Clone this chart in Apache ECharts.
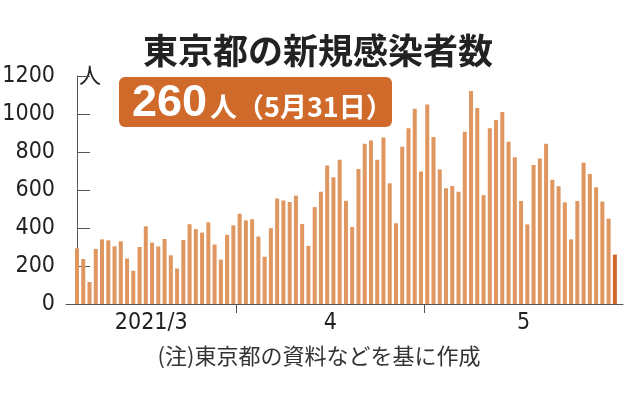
<!DOCTYPE html>
<html><head><meta charset="utf-8">
<script src="https://cdn.jsdelivr.net/npm/echarts@6/dist/echarts.min.js"></script>
<style>html,body{margin:0;padding:0;background:#fff;}#c{width:638px;height:396px;}</style>
</head><body><div id="c"></div>
<script>
// Daily new cases in Tokyo, 2021-03-06 .. 2021-05-31
const startDate = '2021-03-06';
const cases = [
  293,237,116,290,340,335,304,330,239,175,300,409,323,303,342,256,187,337,420,394,376,430,313,234,364,414,
  475,440,446,355,249,399,555,545,537,570,421,306,510,591,729,667,759,543,405,711,843,861,759,876,635,425,828,925,1027,698,
  1050,879,708,609,621,591,907,1121,1032,573,925,969,1010,854,772,542,419,732,766,843,654,620,535,340,542,743,684,614,539,449,260
];
const monthLabels = ['2021/3', '4', '5'];
const yTicks = [0, 200, 400, 600, 800, 1000, 1200];
const titleText = '東京都の新規感染者数';
const badgeNumber = '260';
const badgeRest = '人（5月31日）';
const unitText = '人';
const noteText = '(注)東京都の資料などを基に作成';

// derive dates and month boundaries
const d0 = new Date(startDate + 'T00:00:00Z');
const months = cases.map((_, i) => new Date(d0.getTime() + i * 86400000).getUTCMonth());
const xMin = -1.76, xMax = cases.length - 1 + 1.3;
const boundaries = [];
for (let i = 1; i < months.length; i++) if (months[i] !== months[i - 1]) boundaries.push(i - 0.5);
const edges = [xMin].concat(boundaries, [xMax]);
const labelPos = monthLabels.map((_, k) => (edges[k] + edges[k + 1]) / 2);

const chart = echarts.init(document.getElementById('c'), null, {renderer: 'canvas'});
const narrow = '"DejaVu Sans Condensed", "Liberation Sans Narrow", "Liberation Sans", sans-serif';
const jp = '"Noto Sans CJK JP", sans-serif';
chart.setOption({
  animation: false,
  backgroundColor: '#fff',
  grid: {left: 66, right: 15, top: 76, bottom: 92, containLabel: false, outerBoundsMode: 'none'},
  xAxis: {
    type: 'value', min: xMin, max: xMax,
    axisLine: {show: true, lineStyle: {color: '#555', width: 1}},
    axisTick: {show: true, customValues: boundaries, length: 9, lineStyle: {color: '#555'}},
    axisLabel: {
      customValues: labelPos, margin: 8, fontSize: 23, fontFamily: narrow, color: '#222',
      formatter: v => { const k = labelPos.findIndex(p => Math.abs(p - v) < 1e-6); return k >= 0 ? monthLabels[k] : ''; }
    },
    splitLine: {show: false}
  },
  yAxis: {
    type: 'value', min: yTicks[0], max: yTicks[yTicks.length - 1], interval: yTicks[1] - yTicks[0],
    axisLine: {show: true, lineStyle: {color: '#555', width: 1}},
    axisTick: {show: true, inside: true, length: 13, lineStyle: {color: '#555'}},
    axisLabel: {fontSize: 23, fontFamily: narrow, color: '#222', margin: 11, formatter: v => String(v)},
    splitLine: {show: false}
  },
  series: [{
    type: 'bar', barWidth: 4,
    data: cases.map((v, i) => ({
      value: [i, v],
      itemStyle: {color: i === cases.length - 1 ? '#CF6A2B' : '#E0965F'}
    }))
  }],
  graphic: [
    {type: 'text', x: 318, y: 51, style: {text: titleText, font: 'bold 35px ' + jp, fill: '#222', align: 'center', verticalAlign: 'middle'}},
    {type: 'rect', shape: {x: 119, y: 77, width: 273, height: 50, r: 6}, style: {fill: '#CF6A2B'}},
    {type: 'text', x: 132, y: 104, style: {text: badgeNumber, font: 'bold 45px "Liberation Sans", Arial, sans-serif', fill: '#fff', verticalAlign: 'middle'}},
    {type: 'text', x: 210, y: 107, style: {text: badgeRest, font: 'bold 27px ' + jp, fill: '#fff', verticalAlign: 'middle'}},
    {type: 'text', x: 79, y: 64, style: {text: unitText, font: '22px ' + jp, fill: '#222'}},
    {type: 'text', x: 319, y: 356, style: {text: noteText, font: '22px ' + jp, fill: '#333', align: 'center', verticalAlign: 'middle'}}
  ]
});
</script></body></html>
